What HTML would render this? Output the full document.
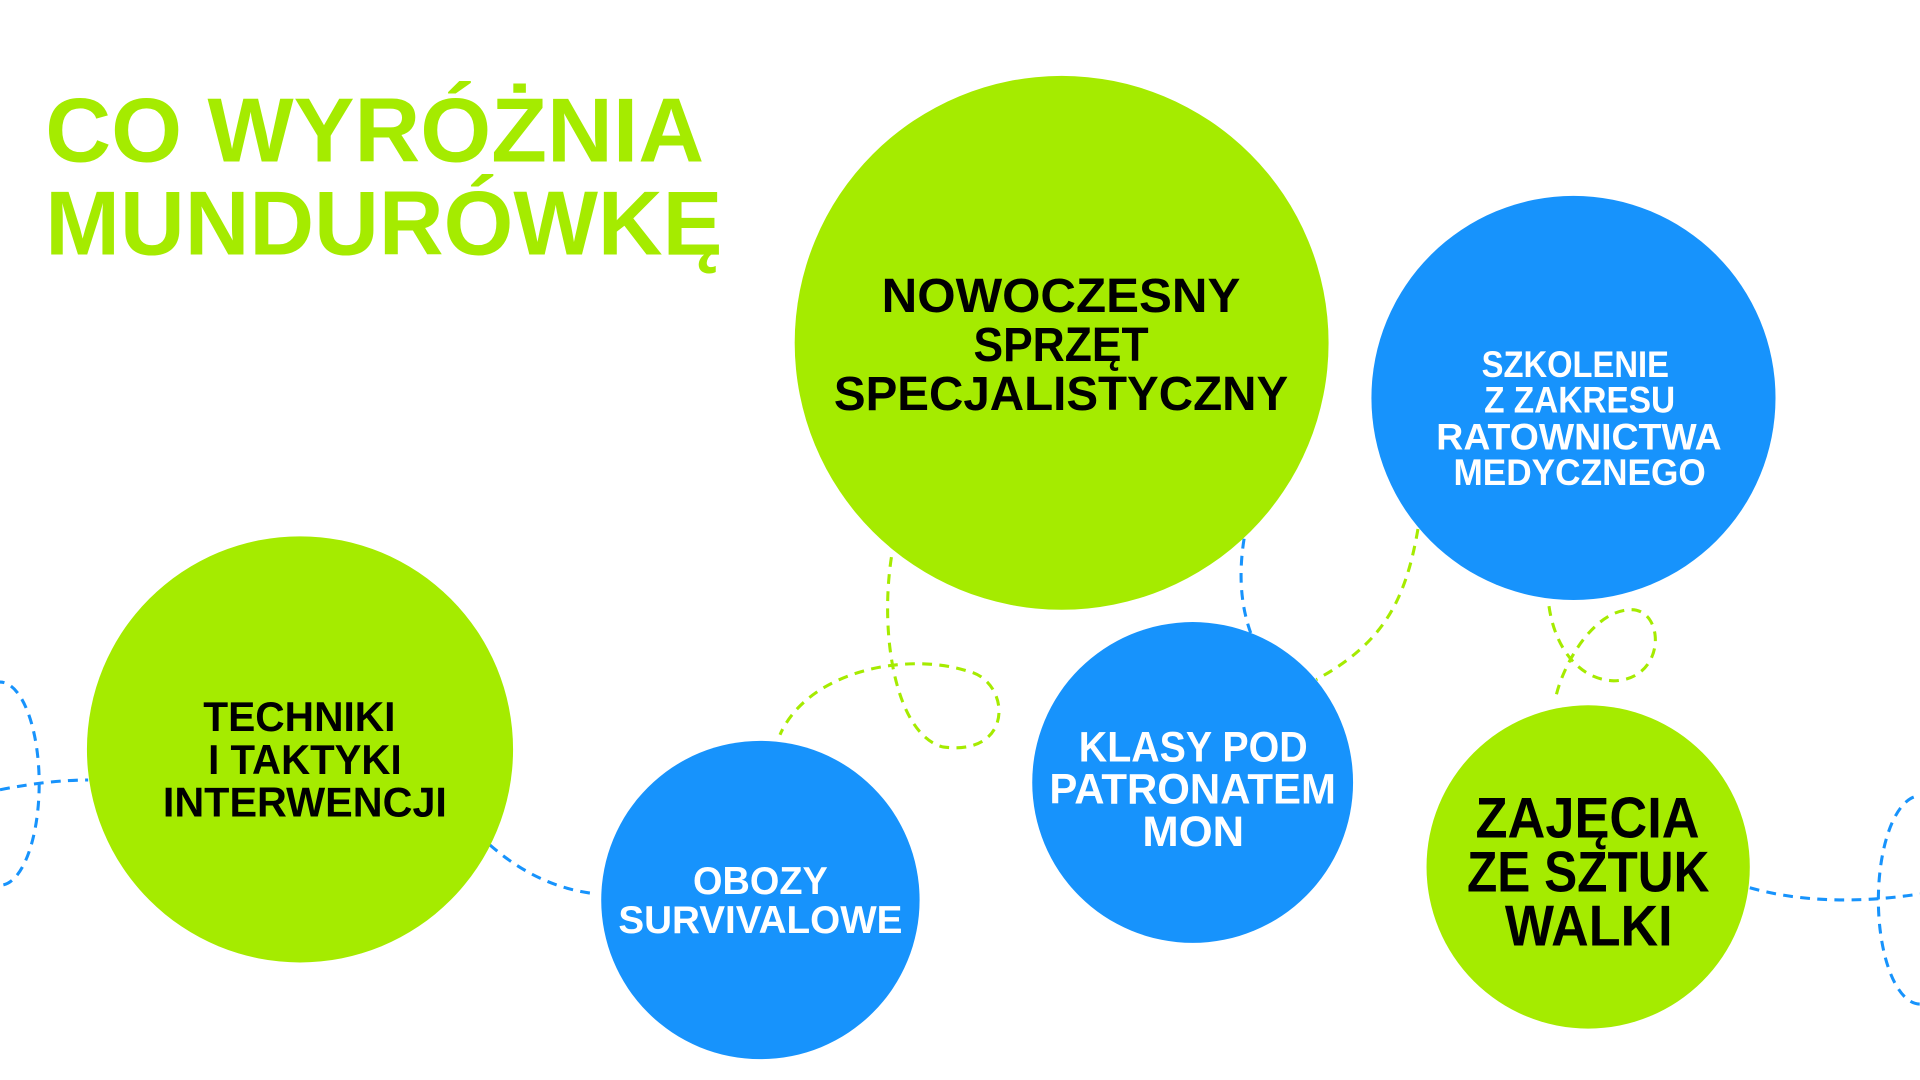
<!DOCTYPE html>
<html><head><meta charset="utf-8"><style>
html,body{margin:0;padding:0;background:#fff;width:1920px;height:1080px;overflow:hidden}
svg{display:block}
text{font-family:"Liberation Sans",sans-serif;font-weight:bold}
</style></head><body>
<svg width="1920" height="1080" viewBox="0 0 1568 882" xmlns="http://www.w3.org/2000/svg">
<rect width="1568" height="882" fill="#fff"/>
<g fill="none" stroke-width="2.5" stroke-dasharray="8 6">
 <g stroke="#1793fc">
  <ellipse cx="0" cy="640" rx="32" ry="83"/>
  <path d="M0 645 Q40 637 72 637"/>
  <path d="M400 690 Q440 725 487 730"/>
  <path d="M1016 440 Q1008 490 1026 528"/>
  <ellipse cx="1568" cy="735" rx="34" ry="85"/>
  <path d="M1429 725 Q1490 742 1568 730"/>
 </g>
 <g stroke="#a5eb00">
  <path d="M728 455 C718 520 732 600 770 610 C830 618 825 555 790 548 C740 532 660 548 637 600"/>
  <path d="M1158 432 C1148 490 1130 525 1075 555"/>
  <path d="M1265 495 C1270 530 1290 555 1318 556 C1362 555 1360 495 1330 498 C1300 500 1275 545 1270 572"/>
 </g>
</g>
<circle cx="867" cy="280" r="218" fill="#a5eb00"/>
<circle cx="1285" cy="325" r="165" fill="#1793fc"/>
<circle cx="245" cy="612" r="174" fill="#a5eb00"/>
<circle cx="621" cy="735" r="130" fill="#1793fc"/>
<circle cx="974" cy="639" r="131" fill="#1793fc"/>
<circle cx="1297" cy="708" r="132" fill="#a5eb00"/>

<g fill="#a5eb00" font-size="74">
 <text x="37" y="132" textLength="538" lengthAdjust="spacingAndGlyphs">CO WYRÓŻNIA</text>
 <text x="37" y="208" textLength="553" lengthAdjust="spacingAndGlyphs">MUNDURÓWKĘ</text>
</g>
<g fill="#000" font-size="39">
 <text x="720" y="255" textLength="293" lengthAdjust="spacingAndGlyphs">NOWOCZESNY</text>
 <text x="795" y="295" textLength="143" lengthAdjust="spacingAndGlyphs">SPRZĘT</text>
 <text x="681" y="335" textLength="371" lengthAdjust="spacingAndGlyphs">SPECJALISTYCZNY</text>
</g>
<g fill="#fff" font-size="30">
 <text x="1210" y="308" textLength="153" lengthAdjust="spacingAndGlyphs">SZKOLENIE</text>
 <text x="1212" y="337" textLength="156" lengthAdjust="spacingAndGlyphs">Z ZAKRESU</text>
 <text x="1173" y="367" textLength="233" lengthAdjust="spacingAndGlyphs">RATOWNICTWA</text>
 <text x="1187" y="396" textLength="206" lengthAdjust="spacingAndGlyphs">MEDYCZNEGO</text>
</g>
<g fill="#000" font-size="34">
 <text x="166" y="597" textLength="157" lengthAdjust="spacingAndGlyphs">TECHNIKI</text>
 <text x="170" y="632" textLength="158" lengthAdjust="spacingAndGlyphs">I TAKTYKI</text>
 <text x="133" y="667" textLength="232" lengthAdjust="spacingAndGlyphs">INTERWENCJI</text>
</g>
<g fill="#fff" font-size="32">
 <text x="566" y="730" textLength="110" lengthAdjust="spacingAndGlyphs">OBOZY</text>
 <text x="505" y="762" textLength="232" lengthAdjust="spacingAndGlyphs">SURVIVALOWE</text>
</g>
<g fill="#fff" font-size="35">
 <text x="881" y="622" textLength="187" lengthAdjust="spacingAndGlyphs">KLASY POD</text>
 <text x="857" y="656" textLength="234" lengthAdjust="spacingAndGlyphs">PATRONATEM</text>
 <text x="933" y="691" textLength="83" lengthAdjust="spacingAndGlyphs">MON</text>
</g>
<g fill="#000" font-size="47">
 <text x="1205" y="684" textLength="183" lengthAdjust="spacingAndGlyphs">ZAJĘCIA</text>
 <text x="1198" y="728" textLength="198" lengthAdjust="spacingAndGlyphs">ZE SZTUK</text>
 <text x="1229" y="772" textLength="137" lengthAdjust="spacingAndGlyphs">WALKI</text>
</g>
</svg>
</body></html>
